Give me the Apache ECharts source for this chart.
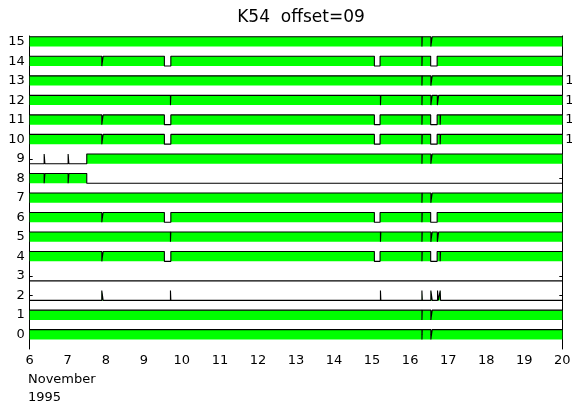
<!DOCTYPE html>
<html>
<head>
<meta charset="utf-8">
<script src="https://cdn.jsdelivr.net/npm/echarts@6/dist/echarts.min.js"></script>
<style>
  html, body { margin: 0; padding: 0; background: #fff; }
  #chart { width: 572px; height: 404px; }
</style>
</head>
<body>
<div id="chart"></div>
<script>
// Time span shown, in days of November 1995
const dayStart = 6;
const dayEnd = 20;
const dayTicks = [6, 7, 8, 9, 10, 11, 12, 13, 14, 15, 16, 17, 18, 19, 20];

// Channel numbers, top to bottom
const channels = [15, 14, 13, 12, 11, 10, 9, 8, 7, 6, 5, 4, 3, 2, 1, 0];

// Initial state of each channel (1 = on, 0 = off)
const ch15Start = 1, ch14Start = 1, ch13Start = 1, ch12Start = 1;
const ch11Start = 1, ch10Start = 1, ch9Start = 0, ch8Start = 1;
const ch7Start = 1, ch6Start = 1, ch5Start = 1, ch4Start = 1;
const ch3Start = 0, ch2Start = 0, ch1Start = 1, ch0Start = 1;

// Times (days) at which each channel toggles state
const ch15Toggles = [16.31, 16.32, 16.545, 16.58];
const ch14Toggles = [7.895, 7.93, 9.54, 9.71, 15.06, 15.21, 16.31, 16.32, 16.54, 16.71];
const ch13Toggles = [16.31, 16.32, 16.545, 16.58];
const ch12Toggles = [9.70, 9.71, 15.22, 15.23, 16.31, 16.32, 16.545, 16.58, 16.715, 16.75];
const ch11Toggles = [7.895, 7.93, 9.54, 9.71, 15.06, 15.21, 16.31, 16.32, 16.54, 16.71, 16.79, 16.80];
const ch10Toggles = [7.895, 7.93, 9.54, 9.71, 15.06, 15.21, 16.31, 16.32, 16.54, 16.71, 16.79, 16.80];
const ch9Toggles = [6.38, 6.40, 7.01, 7.03, 7.50, 16.31, 16.32, 16.545, 16.58];
const ch8Toggles = [6.38, 6.40, 7.01, 7.03, 7.50];
const ch7Toggles = [16.31, 16.32, 16.545, 16.58];
const ch6Toggles = [7.895, 7.93, 9.54, 9.71, 15.06, 15.21, 16.31, 16.32, 16.54, 16.71];
const ch5Toggles = [9.70, 9.71, 15.22, 15.23, 16.31, 16.32, 16.545, 16.58, 16.715, 16.75];
const ch4Toggles = [7.895, 7.93, 9.54, 9.71, 15.06, 15.21, 16.31, 16.32, 16.54, 16.71, 16.79, 16.80];
const ch3Toggles = [];
const ch2Toggles = [7.895, 7.93, 9.70, 9.71, 15.22, 15.23, 16.31, 16.32, 16.545, 16.58, 16.72, 16.74, 16.79, 16.80];
const ch1Toggles = [16.31, 16.32, 16.545, 16.58];
const ch0Toggles = [16.31, 16.32, 16.545, 16.58];

// Labels shown beside the right axis
const rightLabelRows = [13, 12, 11, 10];
const rightLabelText = ['1', '1', '1', '1'];

const channelStart = {
  15: ch15Start, 14: ch14Start, 13: ch13Start, 12: ch12Start,
  11: ch11Start, 10: ch10Start, 9: ch9Start, 8: ch8Start,
  7: ch7Start, 6: ch6Start, 5: ch5Start, 4: ch4Start,
  3: ch3Start, 2: ch2Start, 1: ch1Start, 0: ch0Start
};
const channelToggles = {
  15: ch15Toggles, 14: ch14Toggles, 13: ch13Toggles, 12: ch12Toggles,
  11: ch11Toggles, 10: ch10Toggles, 9: ch9Toggles, 8: ch8Toggles,
  7: ch7Toggles, 6: ch6Toggles, 5: ch5Toggles, 4: ch4Toggles,
  3: ch3Toggles, 2: ch2Toggles, 1: ch1Toggles, 0: ch0Toggles
};

// Half the height of a status trace, in channel units
const HALF = 0.25;

function traceData(ch) {
  let state = channelStart[ch];
  const level = s => s ? ch + HALF : ch - HALF;
  const pts = [[dayStart, level(state)]];
  channelToggles[ch].forEach(t => {
    pts.push([t, level(state)]);
    state = 1 - state;
    pts.push([t, level(state)]);
  });
  pts.push([dayEnd, level(state)]);
  return pts;
}

const FONT = 'DejaVu Sans';

const series = channels.map(ch => ({
  type: 'line',
  name: 'ch' + ch,
  data: traceData(ch),
  showSymbol: false,
  symbol: 'none',
  silent: true,
  animation: false,
  lineStyle: { color: '#000', width: 1.1 },
  areaStyle: { color: '#00ff00', opacity: 1, origin: ch - HALF }
}));

const chart = echarts.init(document.getElementById('chart'), null, { renderer: 'canvas' });
chart.setOption({
  backgroundColor: '#fff',
  animation: false,
  title: {
    text: 'K54  offset=09',
    left: 296,
    top: 4,
    textAlign: 'center',
    textStyle: { fontFamily: FONT, fontSize: 17, fontWeight: 'normal', color: '#000' }
  },
  grid: { left: 29.7, right: 9.7, top: 36, bottom: 55, containLabel: false, outerBoundsMode: 'none' },
  xAxis: [
    {
      type: 'value', position: 'bottom',
      min: dayStart, max: dayEnd, interval: 1,
      axisLine: { show: true, lineStyle: { color: '#000', width: 1 } },
      axisTick: { show: true, inside: true, length: 4, lineStyle: { color: '#000' } },
      axisLabel: {
        show: true, margin: 5, color: '#000', fontFamily: FONT, fontSize: 13,
        formatter: v => dayTicks.includes(v) ? String(v) : ''
      },
      splitLine: { show: false }
    },
    {
      type: 'value', position: 'top',
      min: dayStart, max: dayEnd, interval: 1,
      axisLine: { show: true, lineStyle: { color: '#000', width: 1 } },
      axisTick: { show: true, inside: true, length: 4, lineStyle: { color: '#000' } },
      axisLabel: { show: false },
      splitLine: { show: false }
    }
  ],
  yAxis: [
    {
      type: 'value', position: 'left',
      min: -0.74, max: 15.29,
      axisLine: { show: true, lineStyle: { color: '#000', width: 1 } },
      axisTick: { show: true, inside: true, length: 3, customValues: channels, lineStyle: { color: '#000' } },
      axisLabel: {
        show: true, margin: 5, color: '#000', fontFamily: FONT, fontSize: 13,
        customValues: channels, formatter: v => String(v)
      },
      splitLine: { show: false }
    },
    {
      type: 'value', position: 'right',
      min: -0.74, max: 15.29,
      axisLine: { show: true, lineStyle: { color: '#000', width: 1 } },
      axisTick: { show: true, inside: true, length: 3, customValues: channels, lineStyle: { color: '#000' } },
      axisLabel: {
        show: true, margin: 3, color: '#000', fontFamily: FONT, fontSize: 13,
        customValues: rightLabelRows,
        formatter: v => rightLabelText[rightLabelRows.indexOf(v)] || ''
      },
      splitLine: { show: false }
    }
  ],
  graphic: [
    { type: 'text', left: 28, top: 373, style: { text: 'November', font: '13px "DejaVu Sans"', fill: '#000' } },
    { type: 'text', left: 28, top: 391, style: { text: '1995', font: '13px "DejaVu Sans"', fill: '#000' } }
  ],
  series: series
});
</script>
</body>
</html>
